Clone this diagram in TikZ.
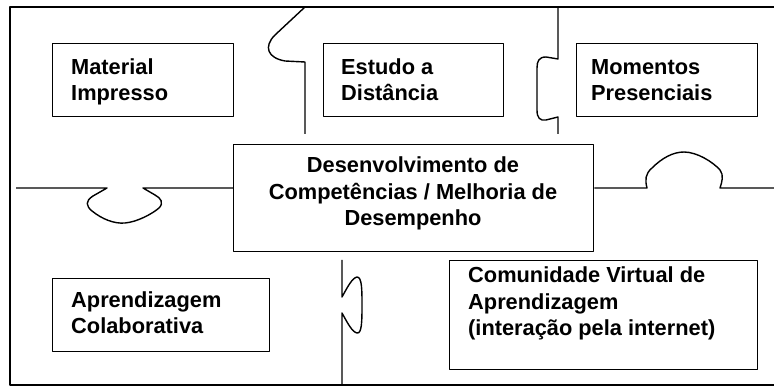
\documentclass[tikz,border=0pt]{standalone}
\usepackage{fontspec}
\setmainfont{Liberation Sans}
\begin{document}
\begin{tikzpicture}[x=1pt,y=-1pt,line width=1.4pt,line join=round,
  box/.style={draw,rectangle,inner sep=0pt,anchor=north west},
  txt/.style={inner sep=0pt,font=\fontsize{21.8}{26.5}\selectfont\bfseries}]
\useasboundingbox (0,0) rectangle (774,387);
% frame
\coordinate (ftr) at (774,7);
\coordinate (ftl) at (10,7);
\coordinate (fbl) at (10,385);
\coordinate (fbr) at (774,385);
\draw (ftr) -- (ftl) -- (fbl) -- (fbr);
% boxes
\node[box,minimum width=181pt,minimum height=73pt] (mat) at (52,43) {};
\node[box,minimum width=180pt,minimum height=73pt] (est) at (323,43) {};
\node[box,minimum width=181pt,minimum height=73pt] (mom) at (576,43) {};
\node[box,minimum width=360pt,minimum height=107pt] (cen) at (233,144) {};
\node[box,minimum width=217pt,minimum height=73pt] (apr) at (52,278) {};
\node[box,minimum width=308pt,minimum height=109pt] (com) at (449,260) {};
% texts (base = baseline of last line)
\node[txt,anchor=base west,align=left] (matT) at (70.5,101) {Material\\Impresso};
\node[txt,anchor=base west,align=left] (estT) at (340.5,101) {Estudo a\\Distância};
\node[txt,anchor=base west,align=left] (momT) at (590.5,101) {Momentos\\Presenciais};
\node[txt,anchor=base,align=center] (cenT) at (413,226) {Desenvolvimento de\\Competências / Melhoria de\\Desempenho};
\node[txt,anchor=base west,align=left] (aprT) at (70.5,334) {Aprendizagem\\Colaborativa};
\node[txt,anchor=base west,align=left] (comT) at (467.5,336) {Comunidade Virtual de\\Aprendizagem\\(interação pela internet)};
% puzzle connectors
\coordinate (c1) at (305,7);
\coordinate (c1e) at (305,134);
\draw (c1) -- (275,35) .. controls (263,47) and (268,58) .. (285,61) -- (305,62) -- (c1e);
\coordinate (c2) at (558,7);
\coordinate (c2e) at (558,134);
\draw (c2) -- (558,59) -- (546,57) .. controls (539,57) and (537,61) .. (537,68) -- (537,110) .. controls (537,118) and (540,121) .. (546,120) -- (558,117) -- (c2e);
\coordinate (c3) at (16,188);
\draw (c3) -- (107,188) -- (93,196) .. controls (85,201) and (86,206) .. (92,211) .. controls (102,219) and (114,224) .. (125,223) .. controls (137,222) and (152,214) .. (159,208) .. controls (164,203) and (161,198) .. (155,195) -- (143,188) -- (cen.west |- c3);
\coordinate (c4) at (774,188);
\draw (cen.east |- c4) -- (647,188) .. controls (645,180) and (645,174) .. (652,168) .. controls (662,158) and (673,152) .. (684,152) .. controls (697,152) and (713,162) .. (720,170) .. controls (724,175) and (722,182) .. (720,188) -- (c4);
\coordinate (c5) at (342,260);
\coordinate (c5e) at (342,385);
\draw (c5) -- (342,297) .. controls (347,288) and (352,278) .. (357,277) .. controls (362,277) and (362,290) .. (362,305) .. controls (362,320) and (362,334) .. (357,333) .. controls (352,332) and (347,322) .. (342,313) -- (c5e);
\end{tikzpicture}
\end{document}
